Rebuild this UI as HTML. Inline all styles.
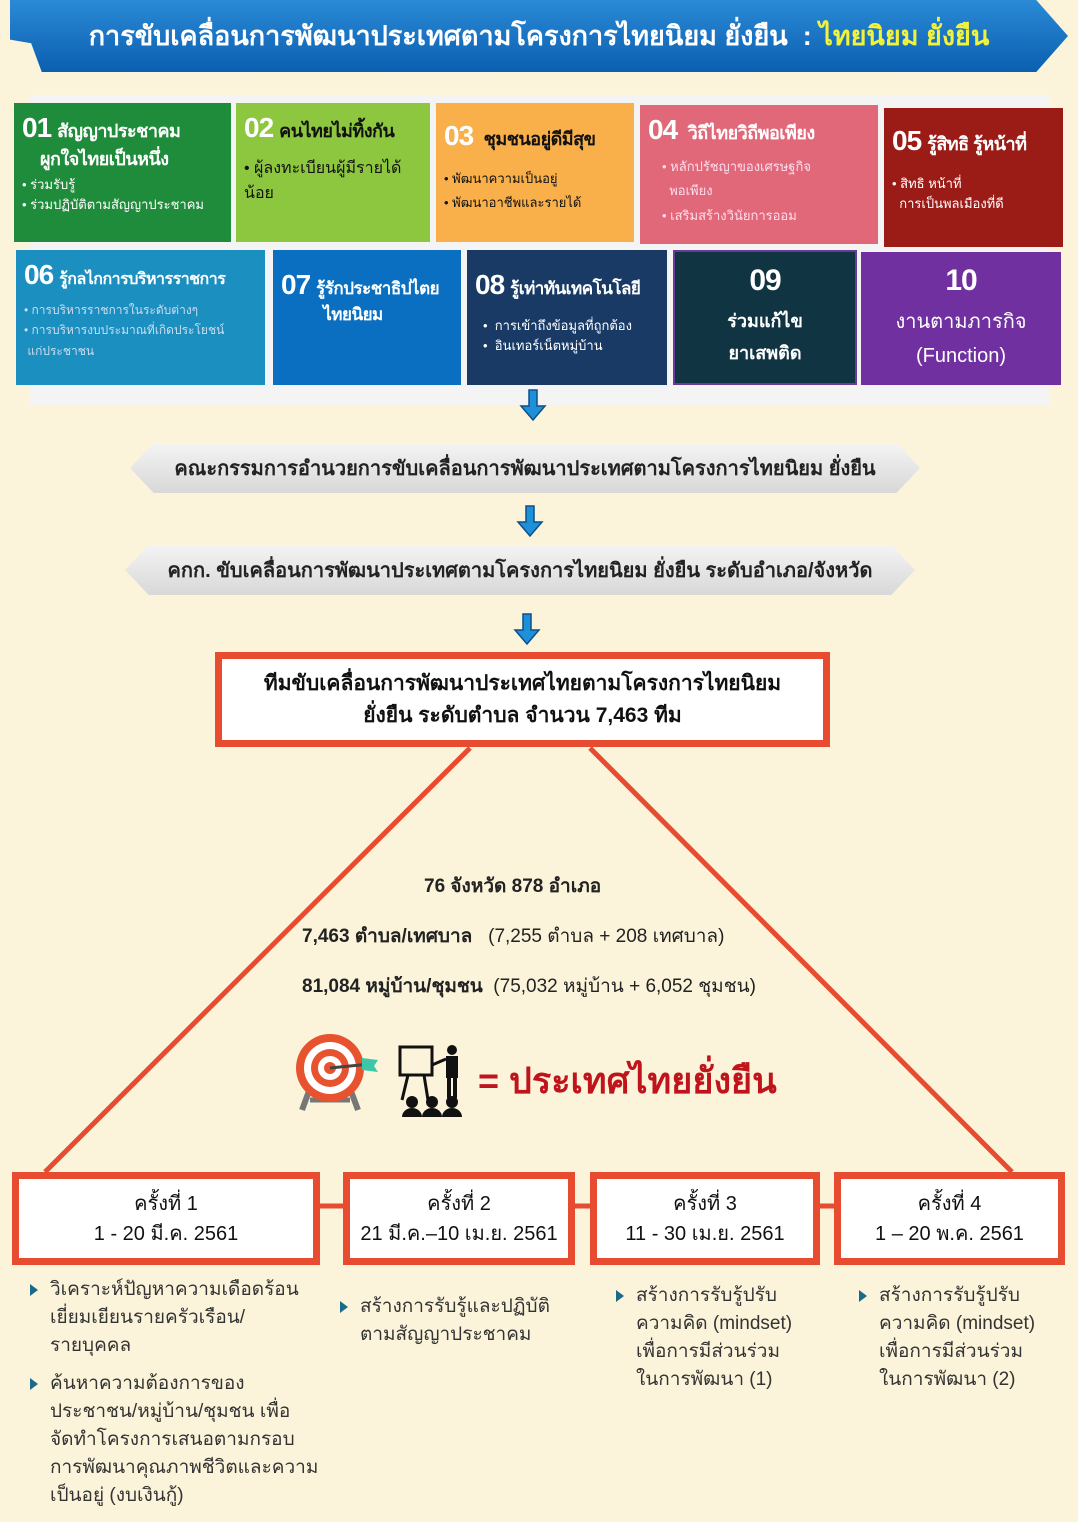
<!DOCTYPE html>
<html><head><meta charset="utf-8">
<style>
*{margin:0;padding:0;box-sizing:border-box}
body{width:1078px;height:1522px;background:#fbf4da;font-family:"Liberation Sans","Noto Sans CJK SC",sans-serif;position:relative;overflow:hidden}
.a{position:absolute}
.card{position:absolute;color:#fff;padding:6px 8px;font-size:13px;line-height:1.55;overflow:hidden}
.card .h{font-size:18px;font-weight:bold;line-height:1.35;white-space:nowrap;letter-spacing:-0.5px}
.card .n{font-size:28px;font-weight:bold;margin-right:6px;letter-spacing:-1px}
.rb{position:absolute;background:linear-gradient(#f4f4f4,#d8d8d8);clip-path:polygon(0 50%,3% 0,97% 0,100% 50%,97% 100%,3% 100%);font-weight:bold;font-size:20px;color:#222;display:flex;align-items:center;justify-content:center}
.box{position:absolute;border:7px solid #e84c30;background:#fff;text-align:center;font-size:20px;color:#111;display:flex;flex-direction:column;justify-content:center;line-height:1.5}
.bl{position:absolute;font-size:19px;color:#333;line-height:28px;white-space:nowrap}
.bl p{position:relative;padding-left:20px;margin-bottom:10px}
.bl p:before{content:"";position:absolute;left:0;top:8px;border-left:8px solid #1a6a8a;border-top:6px solid transparent;border-bottom:6px solid transparent}
.st{position:absolute;font-size:19px;color:#222;white-space:nowrap}
</style></head><body>
<div class="a" style="left:10px;top:0;width:1058px;height:72px;background:linear-gradient(#2a8ad6,#0b5fb0);clip-path:polygon(0 0,97% 0,100% 50%,97% 100%,3% 100%,2% 60%,0 55%);box-shadow:0 3px 4px #888"></div>
<div class="a" style="left:0;top:14px;width:1078px;text-align:center;color:#fff;font-size:27px;font-weight:bold">การขับเคลื่อนการพัฒนาประเทศตามโครงการไทยนิยม ยั่งยืน &nbsp;: <span style="color:#f2f23a">ไทยนิยม ยั่งยืน</span></div>
<div class="a" style="left:30px;top:95px;width:1020px;height:310px;background:#f4f4f4"></div>

<div class="card" style="left:14px;top:103px;width:217px;height:139px;background:#1e8c3a"><div class="h"><span class="n">01</span>สัญญาประชาคม<br>&nbsp;&nbsp;&nbsp;&nbsp;ผูกใจไทยเป็นหนึ่ง</div><div style="margin-top:4px">• ร่วมรับรู้<br>• ร่วมปฏิบัติตามสัญญาประชาคม</div></div>
<div class="card" style="left:236px;top:103px;width:194px;height:139px;background:#8dc63f;color:#111"><div class="h"><span class="n" style="color:#fff">02</span>คนไทยไม่ทิ้งกัน</div><div style="font-size:16px;margin-top:10px">• ผู้ลงทะเบียนผู้มีรายได้<br>น้อย</div></div>
<div class="card" style="left:436px;top:103px;width:198px;height:139px;background:#f9b04a;color:#111"><div class="h" style="margin-top:8px"><span class="n" style="color:#fff">03</span> ชุมชนอยู่ดีมีสุข</div><div style="margin-top:12px;line-height:1.9">• พัฒนาความเป็นอยู่<br>• พัฒนาอาชีพและรายได้</div></div>
<div class="card" style="left:640px;top:105px;width:238px;height:139px;background:#e06878"><div class="h"><span class="n">04</span> วิถีไทยวิถีพอเพียง</div><div style="margin-top:6px;padding-left:14px;color:#fde;line-height:1.9">• หลักปรัชญาของเศรษฐกิจ<br>&nbsp;&nbsp;พอเพียง<br>• เสริมสร้างวินัยการออม</div></div>
<div class="card" style="left:884px;top:108px;width:179px;height:139px;background:#9b1c17"><div class="h" style="margin-top:8px"><span class="n">05</span>รู้สิทธิ รู้หน้าที่</div><div style="margin-top:14px">• สิทธิ หน้าที่<br>&nbsp;&nbsp;การเป็นพลเมืองที่ดี</div></div>

<div class="card" style="left:16px;top:250px;width:249px;height:135px;background:#1a8fc0"><div class="h" style="font-size:16px"><span class="n">06</span>รู้กลไกการบริหารราชการ</div><div style="font-size:12px;margin-top:6px;color:#cde;line-height:1.7">• การบริหารราชการในระดับต่างๆ<br>• การบริหารงบประมาณที่เกิดประโยชน์<br>&nbsp;แก่ประชาชน</div></div>
<div class="card" style="left:273px;top:250px;width:188px;height:135px;background:#0a6fc0"><div class="h" style="margin-top:10px;font-size:17px"><span class="n">07</span>รู้รักประชาธิปไตย<br>&nbsp;&nbsp;&nbsp;&nbsp;&nbsp;&nbsp;&nbsp;&nbsp;&nbsp;&nbsp;ไทยนิยม</div></div>
<div class="card" style="left:467px;top:250px;width:200px;height:135px;background:#1a3a66"><div class="h" style="margin-top:10px;font-size:17px"><span class="n">08</span>รู้เท่าทันเทคโนโลยี</div><div style="margin-top:12px;padding-left:8px">• &nbsp;การเข้าถึงข้อมูลที่ถูกต้อง<br>• &nbsp;อินเทอร์เน็ตหมู่บ้าน</div></div>
<div class="card" style="left:673px;top:250px;width:184px;height:135px;background:#103441;text-align:center;border:2px solid #6a3a9a"><div class="n" style="margin:0;font-size:30px">09</div><div style="font-size:18px;font-weight:bold;line-height:1.8">ร่วมแก้ไข<br>ยาเสพติด</div></div>
<div class="card" style="left:861px;top:252px;width:200px;height:133px;background:#7030a0;text-align:center"><div class="n" style="margin:0;font-size:30px">10</div><div style="font-size:20px;line-height:1.7">งานตามภารกิจ<br>(Function)</div></div>

<svg class="a" style="left:0;top:0" width="1078" height="1522">
<g fill="#1e90d8" stroke="#0b4f8a" stroke-width="1.5">
<path d="M529 390h8v16h8l-12 14-12-14h8z"/>
<path d="M526 506h8v16h8l-12 14-12-14h8z"/>
<path d="M523 614h8v16h8l-12 14-12-14h8z"/>
</g>
<g stroke="#e84c30" stroke-width="5">
<line x1="470" y1="748" x2="45" y2="1172"/>
<line x1="590" y1="748" x2="1012" y2="1172"/>
<line x1="315" y1="1206" x2="345" y2="1206"/>
<line x1="572" y1="1206" x2="592" y2="1206"/>
<line x1="818" y1="1206" x2="836" y2="1206"/>
</g>
<g transform="translate(330,1068)">
<line x1="-18" y1="15" x2="-28" y2="42" stroke="#777" stroke-width="6"/>
<line x1="18" y1="15" x2="28" y2="42" stroke="#777" stroke-width="6"/>
<line x1="-20" y1="32" x2="20" y2="32" stroke="#777" stroke-width="5"/>
<circle r="34" fill="#e8532f"/><circle r="26" fill="#fff"/><circle r="19" fill="#e8532f"/><circle r="12" fill="#fff"/><circle r="6" fill="#e8532f"/>
<line x1="0" y1="0" x2="40" y2="-4" stroke="#444" stroke-width="3"/>
<path d="M32 -10l16 2-4 6 4 6-16-2z" fill="#3cc8a8"/>
</g>
<g transform="translate(400,1045)" stroke="#111" fill="none" stroke-width="3">
<rect x="0" y="2" width="32" height="28"/><line x1="8" y1="30" x2="2" y2="55"/><line x1="24" y1="30" x2="28" y2="55"/><line x1="32" y1="20" x2="46" y2="14"/>
<g fill="#111" stroke="none"><circle cx="52" cy="5" r="5"/><rect x="46" y="11" width="12" height="22"/><rect x="47" y="33" width="4" height="20"/><rect x="53" y="33" width="4" height="20"/>
<circle cx="12" cy="57" r="6"/><path d="M2 72a10 9 0 0 1 20 0z"/><circle cx="32" cy="57" r="6"/><path d="M22 72a10 9 0 0 1 20 0z"/><circle cx="52" cy="57" r="6"/><path d="M42 72a10 9 0 0 1 20 0z"/></g>
</g>
</svg>

<div class="rb" style="left:130px;top:443px;width:790px;height:50px">คณะกรรมการอำนวยการขับเคลื่อนการพัฒนาประเทศตามโครงการไทยนิยม ยั่งยืน</div>
<div class="rb" style="left:125px;top:545px;width:790px;height:50px">คกก. ขับเคลื่อนการพัฒนาประเทศตามโครงการไทยนิยม ยั่งยืน ระดับอำเภอ/จังหวัด</div>

<div class="box" style="left:215px;top:652px;width:615px;height:95px;font-weight:bold;font-size:21px">ทีมขับเคลื่อนการพัฒนาประเทศไทยตามโครงการไทยนิยม<br>ยั่งยืน ระดับตำบล จำนวน 7,463 ทีม</div>

<div class="st" style="left:424px;top:871px;font-weight:bold">76 จังหวัด 878 อำเภอ</div>
<div class="st" style="left:302px;top:921px"><b>7,463 ตำบล/เทศบาล</b> &nbsp;&nbsp;(7,255 ตำบล + 208 เทศบาล)</div>
<div class="st" style="left:302px;top:971px"><b>81,084 หมู่บ้าน/ชุมชน</b> &nbsp;(75,032 หมู่บ้าน + 6,052 ชุมชน)</div>
<div class="st" style="left:478px;top:1052px;font-size:36px;font-weight:bold;color:#c0141c">= ประเทศไทยยั่งยืน</div>

<div class="box" style="left:12px;top:1172px;width:308px;height:93px">ครั้งที่ 1<br>1 - 20 มี.ค. 2561</div>
<div class="box" style="left:343px;top:1172px;width:232px;height:93px">ครั้งที่ 2<br>21 มี.ค.–10 เม.ย. 2561</div>
<div class="box" style="left:590px;top:1172px;width:230px;height:93px">ครั้งที่ 3<br>11 - 30 เม.ย. 2561</div>
<div class="box" style="left:834px;top:1172px;width:231px;height:93px">ครั้งที่ 4<br>1 – 20 พ.ค. 2561</div>

<div class="bl" style="left:30px;top:1276px"><p>วิเคราะห์ปัญหาความเดือดร้อน<br>เยี่ยมเยียนรายครัวเรือน/<br>รายบุคคล</p><p>ค้นหาความต้องการของ<br>ประชาชน/หมู่บ้าน/ชุมชน เพื่อ<br>จัดทำโครงการเสนอตามกรอบ<br>การพัฒนาคุณภาพชีวิตและความ<br>เป็นอยู่ (งบเงินกู้)</p></div>
<div class="bl" style="left:340px;top:1293px"><p>สร้างการรับรู้และปฏิบัติ<br>ตามสัญญาประชาคม</p></div>
<div class="bl" style="left:616px;top:1282px"><p>สร้างการรับรู้ปรับ<br>ความคิด (mindset)<br>เพื่อการมีส่วนร่วม<br>ในการพัฒนา (1)</p></div>
<div class="bl" style="left:859px;top:1282px"><p>สร้างการรับรู้ปรับ<br>ความคิด (mindset)<br>เพื่อการมีส่วนร่วม<br>ในการพัฒนา (2)</p></div>
</body></html>
